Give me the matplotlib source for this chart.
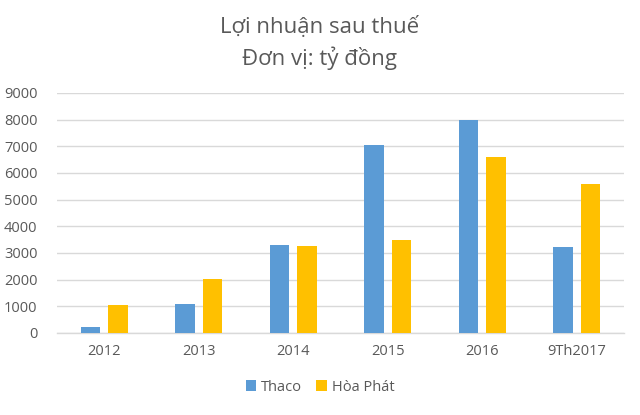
import matplotlib
matplotlib.use("Agg")
import numpy as np
import matplotlib.pyplot as plt

# data
years = ['2012', '2013', '2014', '2015', '2016', '9Th2017']
thaco = [210, 1100, 3280, 7050, 8000, 3220]
hoa_phat = [1030, 2010, 3250, 3500, 6580, 5600]

plt.rcParams['font.family'] = ['Open Sans', 'DejaVu Sans']
txt = '#595959'
grid = '#d9d9d9'

fig = plt.figure(figsize=(6.4, 4.15), dpi=100)
ax = fig.add_axes([0.089, 0.198, 0.886, 0.578])

x = np.arange(len(years))
w = 0.21
off = 0.145
ax.bar(x - off, thaco, w, color='#5b9bd5', label='Thaco', zorder=3)
ax.bar(x + off, hoa_phat, w, color='#ffc000', label='Hòa Phát', zorder=3)

ax.set_xlim(-0.5, len(years) - 0.5)
ax.set_ylim(0, 9000)
ax.set_yticks(range(0, 9001, 1000))
ax.set_xticks(x)
ax.set_xticklabels(years)
ax.tick_params(axis='both', length=0, labelsize=10.5, colors=txt)
ax.tick_params(axis='x', pad=8)
ax.tick_params(axis='y', pad=14)
ax.yaxis.grid(True, color=grid, linewidth=1, zorder=0)
for s in ['top', 'right', 'left']:
    ax.spines[s].set_visible(False)
ax.spines['bottom'].set_color(grid)
ax.spines['bottom'].set_linewidth(1)

fig.text(0.5, 0.920, 'Lợi nhuận sau thuế', ha='center', va='baseline', fontsize=16, color=txt)
fig.text(0.5, 0.843, 'Đơn vị: tỷ đồng', ha='center', va='baseline', fontsize=16, color=txt)

fig.legend(loc='center', bbox_to_anchor=(0.5, 0.067), ncol=2, frameon=False,
           fontsize=10.5, labelcolor=txt, handlelength=0.7, handleheight=0.7,
           handletextpad=0.35, columnspacing=1.0)

fig.savefig('out.png', dpi=100)
